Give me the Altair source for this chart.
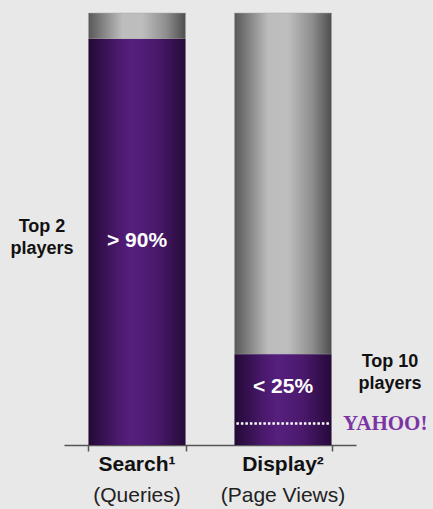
import altair as alt
import pandas as pd

cats = ["Search", "Display"]
top_share = [94, 21]           # share held by top players (purple)
totals = [100, 100]
inner_labels = ["> 90%", "< 25%"]
inner_label_y = [47.2, 13.4]
side_labels = [["Top 2", "players"], ["Top 10", "players"]]
side_label_y = [50.5, 19.2]
axis_main = ["Search¹", "Display²"]
axis_sub = ["(Queries)", "(Page Views)"]
yahoo_share = [5]

FONT = "Arial, Liberation Sans, Helvetica, sans-serif"

df = pd.DataFrame({
    "cat": cats, "top": top_share, "total": totals,
    "inner": inner_labels, "inner_y": inner_label_y,
    "side": side_labels, "side_y": side_label_y,
    "main": axis_main, "sub": axis_sub,
})
yahoo_df = pd.DataFrame({"cat": ["Display"], "y": yahoo_share})

xscale = alt.Scale(domain=cats, paddingInner=0.335, paddingOuter=0.1675)
yscale = alt.Scale(domain=[0, 100], nice=False)

X = alt.X("cat:N", scale=xscale, sort=cats,
          axis=alt.Axis(title=None, labels=False, domainColor="#555555",
                        tickColor="#555555", domainWidth=1.5, tickWidth=1.5,
                        tickSize=6, tickBand="extent", grid=False))

purple = alt.Gradient(gradient="linear", x1=0, x2=1, y1=0, y2=0, stops=[
    alt.GradientStop(offset=0, color="#230935"),
    alt.GradientStop(offset=0.3, color="#4a196d"),
    alt.GradientStop(offset=0.45, color="#561f7d"),
    alt.GradientStop(offset=0.7, color="#4a196c"),
    alt.GradientStop(offset=1, color="#260a3a"),
])
gray = alt.Gradient(gradient="linear", x1=0, x2=1, y1=0, y2=0, stops=[
    alt.GradientStop(offset=0, color="#585858"),
    alt.GradientStop(offset=0.35, color="#bdbdbd"),
    alt.GradientStop(offset=0.55, color="#bebebe"),
    alt.GradientStop(offset=0.8, color="#8e8e8e"),
    alt.GradientStop(offset=1, color="#4e4e4e"),
])

base = alt.Chart(df)

gray_bar = base.mark_bar(color=gray, stroke="#aaaaaa", strokeWidth=0.5).encode(
    x=X,
    y=alt.Y("top:Q", scale=yscale, axis=None),
    y2="total:Q",
)
purple_bar = base.mark_bar(color=purple).encode(
    x=X,
    y=alt.Y("top:Q", scale=yscale, axis=None),
    y2=alt.datum(0),
)

inner_text = base.mark_text(color="white", font=FONT, fontWeight="bold",
                            fontSize=21).encode(
    x=X, y=alt.Y("inner_y:Q", scale=yscale), text="inner:N")

side_left = alt.Chart(df[df.cat == "Search"]).mark_text(
    color="#111111", font=FONT, fontWeight="bold", fontSize=18,
    dx=-95, lineHeight=22).encode(
    x=X, y=alt.Y("side_y:Q", scale=yscale), text="side")
side_right = alt.Chart(df[df.cat == "Display"]).mark_text(
    color="#111111", font=FONT, fontWeight="bold", fontSize=18,
    dx=107, lineHeight=22).encode(
    x=X, y=alt.Y("side_y:Q", scale=yscale), text="side")

main_text = base.mark_text(color="#111111", font=FONT, fontWeight="bold",
                           fontSize=21).encode(
    x=X, y=alt.value(452), text="main:N")
sub_text = base.mark_text(color="#222222", font=FONT, fontSize=21).encode(
    x=X, y=alt.value(483), text="sub:N")

yahoo_line = alt.Chart(yahoo_df).mark_rule(
    color="white", strokeWidth=2.5, strokeDash=[2.5, 2]).encode(
    x=alt.X("cat:N", scale=xscale, bandPosition=0.02),
    x2=alt.X2("cat", bandPosition=0.98),
    y=alt.Y("y:Q", scale=yscale),
)
yahoo_text = alt.Chart(yahoo_df).mark_text(
    text="YAHOO!", color="#7b35a3", font="Liberation Serif, DejaVu Serif, serif",
    fontWeight="bold", fontSize=21, align="left", dx=60, dy=1).encode(
    x=alt.X("cat:N", scale=xscale), y=alt.Y("y:Q", scale=yscale))

chart = alt.layer(
    gray_bar, purple_bar, inner_text, side_left, side_right,
    main_text, sub_text, yahoo_line, yahoo_text,
).properties(
    width=292, height=432,
    background="#e8e8e8",
    autosize=alt.AutoSizeParams(type="none"),
    padding={"left": 64, "top": 13, "right": 77, "bottom": 64},
).configure_view(stroke=None)

chart.save("out.html", embed_options={"renderer": "svg", "actions": False})
